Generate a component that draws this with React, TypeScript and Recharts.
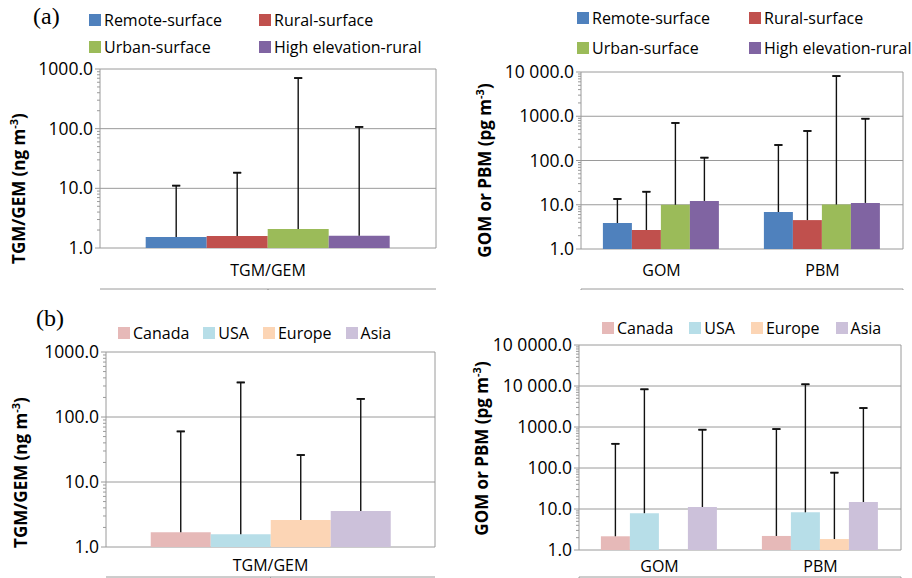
import React from "react";
import { BarChart, Bar, XAxis, YAxis, CartesianGrid, ErrorBar, Label } from "recharts";

const FONT = "'Open Sans', Lato, sans-serif";
const AXIS = "#9a9a9a";

const siteTypes = ["Remote-surface", "Rural-surface", "Urban-surface", "High elevation-rural"];
const siteColors = ["#4F81BD", "#C0504D", "#9BBB59", "#8064A2"];
const regions = ["Canada", "USA", "Europe", "Asia"];
const regionColors = ["#E6B9B8", "#B7DEE8", "#FCD5B5", "#CCC1DA"];

const tgmCategories = ["TGM/GEM"];
const gomPbmCategories = ["GOM", "PBM"];

// (a) by site type: mean (bar) and upper end of range (whisker)
const tgmSiteMean = [1.53, 1.59, 2.08, 1.6];
const tgmSiteMax = [11.1, 18.3, 705, 107];
const gomSiteMean = [3.87, 2.69, 10, 12.2];
const gomSiteMax = [13.5, 19.7, 705, 116];
const pbmSiteMean = [6.86, 4.5, 10.1, 11];
const pbmSiteMax = [224, 465, 8100, 880];

// (b) by region
const tgmRegionMean = [1.68, 1.57, 2.6, 3.58];
const tgmRegionMax = [60, 340, 26, 190];
const gomRegionMean = [2.16, 7.9, null, 11.2];
const gomRegionMax = [390, 8300, null, 860];
const pbmRegionMean = [2.2, 8.3, 1.85, 14.8];
const pbmRegionMax = [890, 11000, 77, 2900];

// y axis ticks
const ticks3 = [1, 10, 100, 1000];
const ticks3Labels = ["1.0", "10.0", "100.0", "1000.0"];
const ticks4 = [1, 10, 100, 1000, 10000];
const ticks4Labels = ["1.0", "10.0", "100.0", "1000.0", "10 000.0"];
const ticks5 = [1, 10, 100, 1000, 10000, 100000];
const ticks5Labels = ["1.0", "10.0", "100.0", "1000.0", "10 000.0", "10 0000.0"];

type Num = number | null;

function buildRows(categories: string[], means: Num[][], maxes: Num[][]) {
  return categories.map((name, ci) => {
    const row: any = { name };
    means[ci].forEach((m, si) => {
      const mx = maxes[ci][si];
      row[`s${si}`] = m;
      if (m != null && mx != null) {
        row[`e${si}`] = [0, mx - m]; // whisker from bar top upwards
        row[`c${si}`] = [m - mx, mx - m]; // cap only at the top
      }
    });
    return row;
  });
}

function withMinor(majors: number[]) {
  const out: number[] = [];
  majors.forEach((d, i) => {
    out.push(d);
    if (i < majors.length - 1) for (let k = 2; k <= 9; k++) out.push(d * k);
  });
  return out;
}

const makeTick = (majors: number[], labels: string[]) => (props: any) => {
  const { x, y, payload } = props;
  const idx = majors.indexOf(payload.value);
  const major = idx >= 0;
  return (
    <g>
      <line x1={x - (major ? 5 : 3)} x2={x} y1={y} y2={y} stroke={AXIS} />
      {major && (
        <text x={x - 7} y={y} dy="0.35em" textAnchor="end" fontSize={17.5} fill="#000" fontFamily={FONT}>
          {labels[idx]}
        </text>
      )}
    </g>
  );
};

const makeYLabel = (text: string, unit: string, bx: number, dy: number) => (props: any) => {
  const vb = props.viewBox || { x: 0, y: 0, height: 0 };
  const cx = vb.x + bx;
  const cy = vb.y + vb.height / 2 + dy;
  return (
    <text x={cx} y={cy} transform={`rotate(-90, ${cx}, ${cy})`} textAnchor="middle"
      fontFamily={FONT} fontWeight={700} fontSize={17} fill="#000">
      {`${text} (${unit} m`}
      <tspan dy={-7} fontSize={11}>-3</tspan>
      <tspan dy={7}>)</tspan>
    </text>
  );
};

interface PanelProps {
  left: number; top: number; width: number; height: number;
  plotTop: number; plotRight: number; yWidth: number; catHeight: number; catMargin: number;
  rows: any[]; categories: string[]; colors: string[];
  majors: number[]; labels: string[];
  yText: string; yUnit: string; yLabelX: number; yLabelDy: number;
}

function Panel(p: PanelProps) {
  const top = p.majors[p.majors.length - 1];
  const edgeTicks = p.categories.map((_, i) => i).concat([p.categories.length]);
  return (
    <div style={{ position: "absolute", left: p.left, top: p.top }}>
      <BarChart width={p.width} height={p.height} data={p.rows}
        margin={{ top: p.plotTop, right: p.width - p.plotRight - 1, left: 0, bottom: 0 }}
        barCategoryGap="13.6%" barGap={0}>
        <CartesianGrid xAxisId="cat" yAxisId="y" vertical={false} horizontalValues={p.majors} stroke={AXIS} />
        <XAxis xAxisId="edge" type="number" domain={[0, p.categories.length]} ticks={edgeTicks} interval={0}
          allowDataOverflow tickFormatter={() => ""} tickSize={5} tickLine={{ stroke: AXIS }}
          axisLine={{ stroke: AXIS }} height={1} />
        <XAxis xAxisId="cat" dataKey="name" axisLine={false} tickLine={false} tickSize={0}
          tickMargin={p.catMargin} height={p.catHeight}
          tick={{ fontSize: 16, fill: "#000", fontFamily: FONT }} />
        <YAxis yAxisId="y" type="number" scale="log" domain={[1, top]} allowDataOverflow
          ticks={withMinor(p.majors)} interval={0} tick={makeTick(p.majors, p.labels)}
          tickLine={false} tickSize={0} tickMargin={0} axisLine={{ stroke: AXIS }} width={p.yWidth}>
          <Label content={makeYLabel(p.yText, p.yUnit, p.yLabelX, p.yLabelDy)} />
        </YAxis>
        <YAxis yAxisId="r" orientation="right" type="number" scale="log" domain={[1, top]} allowDataOverflow
          ticks={[1, top]} tick={false} tickLine={false} axisLine={{ stroke: AXIS }} width={1} />
        {p.colors.map((c, i) => (
          <Bar key={i} dataKey={`s${i}`} xAxisId="cat" yAxisId="y" fill={c} isAnimationActive={false}>
            <ErrorBar dataKey={`e${i}`} width={0} stroke="#111" strokeWidth={1.4} direction="y" isAnimationActive={false} />
            <ErrorBar dataKey={`c${i}`} width={4} stroke="#111" strokeWidth={1.6} direction="y" isAnimationActive={false} />
          </Bar>
        ))}
      </BarChart>
    </div>
  );
}

function GridLegend({ left, top, colW, rowH, names, colors }: any) {
  return (
    <div style={{ position: "absolute", left, top, display: "grid", gridTemplateColumns: `${colW}px ${colW}px`,
      fontFamily: FONT, fontSize: 16, color: "#000" }}>
      {names.map((n: string, i: number) => (
        <div key={n} style={{ display: "flex", alignItems: "center", height: rowH, whiteSpace: "nowrap" }}>
          <span style={{ width: 12, height: 12, background: colors[i], marginRight: 3, display: "inline-block" }} />
          {n}
        </div>
      ))}
    </div>
  );
}

function RowLegend({ left, top, gap, names, colors }: any) {
  return (
    <div style={{ position: "absolute", left, top, display: "flex", gap, fontFamily: FONT, fontSize: 16,
      color: "#000", height: 24, alignItems: "center", whiteSpace: "nowrap" }}>
      {names.map((n: string, i: number) => (
        <div key={n} style={{ display: "flex", alignItems: "center" }}>
          <span style={{ width: 12, height: 12, background: colors[i], marginRight: 3, display: "inline-block" }} />
          {n}
        </div>
      ))}
    </div>
  );
}

export default function App() {
  const siteTgmRows = buildRows(tgmCategories, [tgmSiteMean], [tgmSiteMax]);
  const siteGpRows = buildRows(gomPbmCategories, [gomSiteMean, pbmSiteMean], [gomSiteMax, pbmSiteMax]);
  const regTgmRows = buildRows(tgmCategories, [tgmRegionMean], [tgmRegionMax]);
  const regGpRows = buildRows(gomPbmCategories, [gomRegionMean, pbmRegionMean], [gomRegionMax, pbmRegionMax]);

  return (
    <div style={{ position: "absolute", left: 0, top: 0, width: 912, height: 578, background: "#fff", overflow: "hidden" }}>
      <Panel left={0} top={0} width={456} height={290} plotTop={69} plotRight={436} yWidth={100}
        catHeight={41} catMargin={17} rows={siteTgmRows} categories={tgmCategories} colors={siteColors}
        majors={ticks3} labels={ticks3Labels} yText="TGM/GEM" yUnit="ng" yLabelX={25} yLabelDy={30} />
      <Panel left={456} top={0} width={456} height={290} plotTop={72} plotRight={447} yWidth={125}
        catHeight={40} catMargin={16} rows={siteGpRows} categories={gomPbmCategories} colors={siteColors}
        majors={ticks4} labels={ticks4Labels} yText="GOM or PBM" yUnit="pg" yLabelX={35} yLabelDy={10} />
      <Panel left={0} top={290} width={456} height={288} plotTop={62} plotRight={435} yWidth={106}
        catHeight={30} catMargin={13} rows={regTgmRows} categories={tgmCategories} colors={regionColors}
        majors={ticks3} labels={ticks3Labels} yText="TGM/GEM" yUnit="ng" yLabelX={27} yLabelDy={23} />
      <Panel left={456} top={290} width={456} height={288} plotTop={55} plotRight={445} yWidth={123}
        catHeight={27} catMargin={11} rows={regGpRows} categories={gomPbmCategories} colors={regionColors}
        majors={ticks5} labels={ticks5Labels} yText="GOM or PBM" yUnit="pg" yLabelX={32} yLabelDy={1} />

      <div style={{ position: "absolute", left: 33, top: 3, fontFamily: "'Liberation Serif', serif", fontSize: 24 }}>(a)</div>
      <div style={{ position: "absolute", left: 36, top: 305, fontFamily: "'Liberation Serif', serif", fontSize: 24 }}>(b)</div>

      <GridLegend left={89} top={6} colW={170} rowH={27} names={siteTypes} colors={siteColors} />
      <GridLegend left={577} top={3} colW={172} rowH={30} names={siteTypes} colors={siteColors} />
      <RowLegend left={118} top={321} gap={14} names={regions} colors={regionColors} />
      <RowLegend left={602} top={316} gap={16} names={regions} colors={regionColors} />
    </div>
  );
}
